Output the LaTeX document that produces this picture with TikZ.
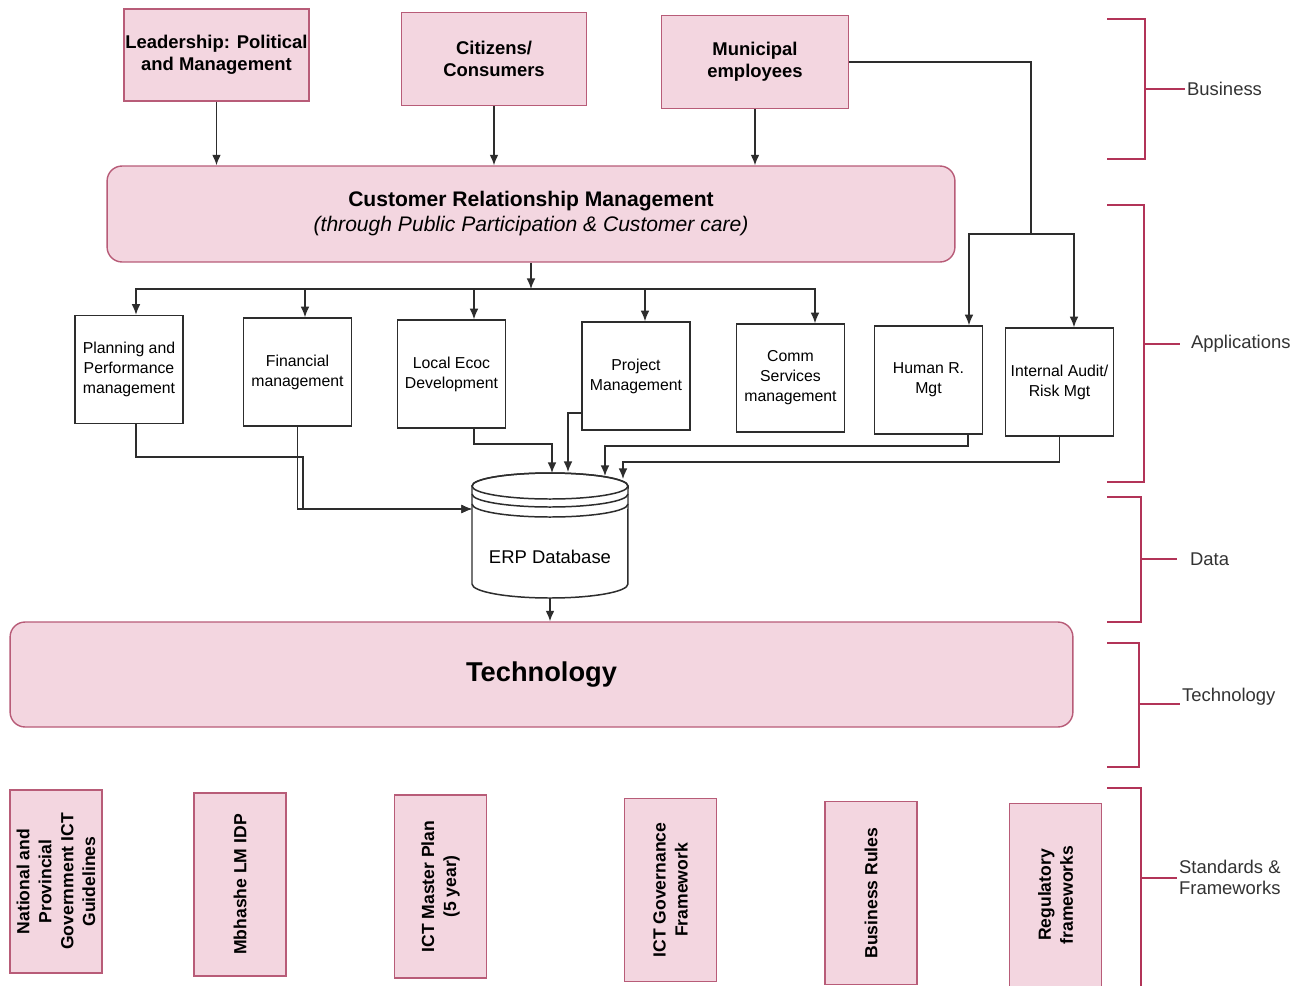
\documentclass[tikz,border=0pt]{standalone}
\usepackage{fontspec}
\setmainfont{Liberation Sans}
\usetikzlibrary{arrows.meta}
\definecolor{pinkfill}{RGB}{243,214,224}
\definecolor{pinkedge}{RGB}{184,92,120}
\definecolor{brkred}{RGB}{178,52,88}
\definecolor{linegray}{RGB}{45,45,45}

\begin{document}
\begin{tikzpicture}[x=0.02cm,y=-0.02cm,>={Latex[length=6pt,width=5pt]},
  topbox/.style={draw=pinkedge,fill=pinkfill,line width=0.8pt,align=center,inner sep=0pt,font=\bfseries\fontsize{10.5}{12.5}\selectfont},
  bandbox/.style={draw=pinkedge,fill=pinkfill,line width=0.8pt,rounded corners=0.3cm,align=center},
  appbox/.style={draw=linegray,fill=white,line width=0.9pt,minimum width=2.16cm,minimum height=2.16cm,align=center,inner sep=0pt,font=\fontsize{9}{11.4}\selectfont},
  stdbox/.style={draw=pinkedge,fill=pinkfill,line width=0.8pt,rotate=90,minimum width=3.66cm,minimum height=1.84cm,align=center,inner sep=0pt,font=\bfseries\fontsize{10}{12.5}\selectfont},
  wire/.style={draw=linegray,line width=0.85pt},
  brk/.style={draw=brkred,line width=1.6pt}]
\useasboundingbox[fill=white] (0,0) rectangle (1303,985);

% business
\path (216.5,55) node[topbox,minimum width=3.7cm,minimum height=1.84cm] (lead) {Leadership: Political\\and Management};
\path (494,59) node[topbox,minimum width=3.7cm,minimum height=1.86cm] (citz) {Citizens/\\Consumers};
\path (755,62) node[topbox,minimum width=3.74cm,minimum height=1.86cm] (muni) {Municipal\\employees};
\path (531,214) node[bandbox,minimum width=16.96cm,minimum height=1.92cm,font=\fontsize{12}{14.2}\selectfont] (crm) {\textbf{Customer Relationship Management}\\\textit{(through Public Participation \& Customer care)}};
\draw[wire,->] (lead.south) -- (lead.south |- crm.north);
\draw[wire,->] (citz.south) -- (citz.south |- crm.north);
\draw[wire,->] (muni.south) -- (muni.south |- crm.north);

% applications
\path (129,369.5) node[appbox] (plan) {Planning and\\Performance\\management};
\path (297.5,372) node[appbox] (fin) {Financial\\management};
\path (451.5,374) node[appbox] (led) {Local Ecoc\\Development};
\path (636,376) node[appbox] (proj) {Project\\Management};
\path (790.5,378) node[appbox] (comm) {Comm\\Services\\management};
\path (928.5,380) node[appbox] (hr) {Human R.\\Mgt};
\path (1059.5,382) node[appbox] (audit) {Internal Audit/\\Risk Mgt};
\coordinate (bus) at (531,289);
\draw[wire,->] (crm.south) -- (bus);
\foreach \n/\s in {plan/0.14cm,fin/0.15cm,led/0.45cm,proj/0.18cm,comm/0.49cm}
  \draw[wire,->] (bus) -| ([xshift=\s]\n.north);
\coordinate (split) at (1031,234);
\draw[wire] (muni.east) -| (split);
\draw[wire,->] (split) -| ([xshift=0.81cm]hr.north);
\draw[wire,->] (split) -| ([xshift=0.29cm]audit.north);

% data
\path[wire,fill=white] (472,486) -- (472,584) arc[start angle=180,end angle=360,x radius=1.56cm,y radius=0.28cm] -- (628,486) arc[start angle=0,end angle=180,x radius=1.56cm,y radius=0.26cm] -- cycle;
\draw[wire] (550,486) ellipse[x radius=1.56cm,y radius=0.26cm];
\draw[wire] (472,494) arc[start angle=180,end angle=360,x radius=1.56cm,y radius=0.26cm];
\draw[wire] (472,504) arc[start angle=180,end angle=360,x radius=1.56cm,y radius=0.26cm];
\path (550,557) node[font=\fontsize{10.5}{12}\selectfont] (erp) {ERP Database};
\coordinate (dbL) at (472,509);
\coordinate (dbA) at (552,473);
\coordinate (dbB) at (568,472);
\coordinate (dbC) at (605,476);
\coordinate (dbD) at (623,479);
\coordinate (dbOut) at (550,598);
\draw[wire,->] ([xshift=0.14cm]plan.south) |- (303,457) |- (dbL);
\draw[wire,->] (fin.south) |- (dbL);
\draw[wire,->] ([xshift=0.45cm]led.south) |- (552,444) -- (dbA);
\draw[wire,->] ([yshift=-0.74cm]proj.west) -| (dbB);
\draw[wire,->] ([xshift=0.79cm]hr.south) |- (605,446) -- (dbC);
\draw[wire,->] (audit.south) |- (623,462) -- (dbD);

% technology
\path (541.5,674.5) node[bandbox,minimum width=21.26cm,minimum height=2.1cm,font=\bfseries\fontsize{15.5}{18}\selectfont] (tech) {Technology};
\draw[wire,->] (dbOut) -- (dbOut |- tech.north);

% standards
\path (56,881.5) node[stdbox] (nat) {National and\\Provincial\\Government ICT\\Guidelines};
\path (240,884.5) node[stdbox] (idp) {Mbhashe LM IDP};
\path (440.5,886.5) node[stdbox] (mp) {ICT Master Plan\\(5 year)};
\path (670.5,890) node[stdbox] (gov) {ICT Governance\\Framework};
\path (871,893) node[stdbox] (rules) {Business Rules};
\path (1055.5,895) node[stdbox] (reg) {Regulatory\\frameworks};

% layers
\foreach \nm/\t/\b/\x/\m/\e/\g/\ty/\txt in {biz/19/159/1145/89/1185/1185/89/Business,
  app/205/482/1144/344/1180/1189/344/Applications,
  dat/497/622/1141/559/1177/1188/559/Data,
  tec/643/767/1139/704/1180/1180/697/Technology,
  std/788/995/1141/878/1177/1177/877/{Standards \&\\Frameworks}}
{
  \draw[brk] (1107,\t) -| (\x,\b) -- (1107,\b);
  \draw[brk] (\x,\m) -- (\e,\m);
  \path (\g,\ty) node[anchor=west,inner sep=1pt,align=left,text=black!80,font=\fontsize{10.5}{12}\selectfont] (lbl\nm) {\txt};
}
\end{tikzpicture}
\end{document}
